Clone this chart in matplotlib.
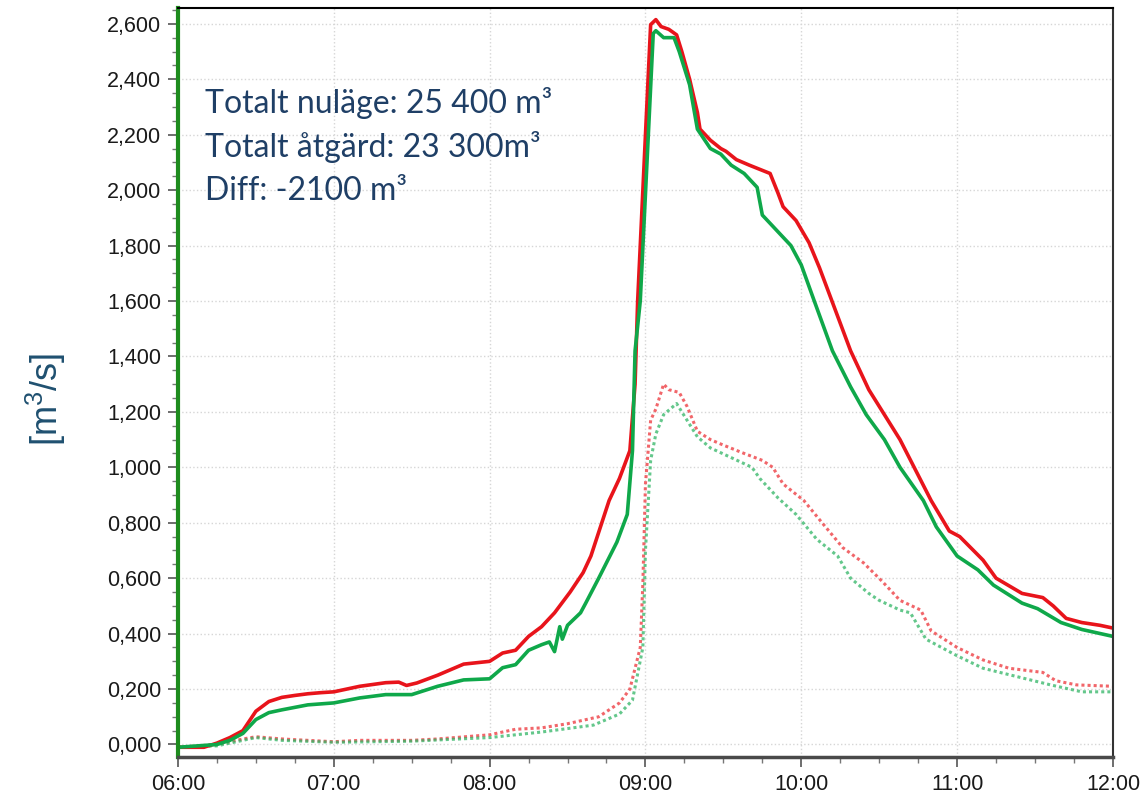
import matplotlib
matplotlib.use("Agg")
import matplotlib.pyplot as plt
import matplotlib.dates as mdates
from matplotlib.ticker import MultipleLocator, FuncFormatter
import pandas as pd

# Data
t_nulage = ["06:00", "06:10", "06:15", "06:20", "06:25", "06:30", "06:35", "06:40", "06:45", "06:50",
            "06:55", "07:00", "07:10", "07:20", "07:25", "07:28", "07:32", "07:40", "07:50", "08:00",
            "08:05", "08:10", "08:15", "08:20", "08:25", "08:31", "08:36", "08:39", "08:46", "08:50",
            "08:54", "08:56", "08:57", "09:02", "09:04", "09:06", "09:09", "09:12", "09:14", "09:17",
            "09:20", "09:21", "09:25", "09:29", "09:31", "09:35", "09:40", "09:48", "09:51", "09:53",
            "09:58", "10:03", "10:07", "10:11", "10:19", "10:26", "10:38", "10:50", "10:57", "11:01",
            "11:10", "11:15", "11:25", "11:33", "11:37", "11:42", "11:48", "11:55", "12:00"]
q_nulage = [-0.01, -0.01, 0.005, 0.025, 0.05, 0.12, 0.155, 0.17, 0.177, 0.183,
            0.187, 0.19, 0.21, 0.223, 0.225, 0.213, 0.222, 0.25, 0.29, 0.30,
            0.33, 0.34, 0.39, 0.425, 0.475, 0.55, 0.62, 0.68, 0.88, 0.96,
            1.06, 1.30, 1.60, 2.597, 2.615, 2.59, 2.58, 2.56, 2.50, 2.40,
            2.28, 2.22, 2.18, 2.15, 2.14, 2.11, 2.09, 2.06, 1.99, 1.94,
            1.89, 1.81, 1.72, 1.62, 1.42, 1.28, 1.10, 0.88, 0.77, 0.75,
            0.665, 0.60, 0.545, 0.53, 0.50, 0.455, 0.44, 0.43, 0.42]

t_atgard = ["06:00", "06:15", "06:20", "06:25", "06:30", "06:35", "06:40", "06:50", "07:00", "07:10",
            "07:20", "07:30", "07:40", "07:50", "08:00", "08:05", "08:10", "08:15", "08:20", "08:23",
            "08:25", "08:27", "08:28", "08:30", "08:35", "08:37", "08:42", "08:49", "08:53", "08:55",
            "08:56", "08:58", "09:03", "09:04", "09:07", "09:11", "09:13", "09:17", "09:20", "09:25",
            "09:29", "09:33", "09:38", "09:43", "09:44", "09:45", "09:51", "09:56", "10:00", "10:05",
            "10:12", "10:19", "10:25", "10:32", "10:38", "10:47", "10:52", "11:00", "11:08", "11:14",
            "11:25", "11:31", "11:40", "11:48", "12:00"]
q_atgard = [-0.01, 0.0, 0.015, 0.04, 0.09, 0.115, 0.125, 0.143, 0.15, 0.168,
            0.18, 0.18, 0.21, 0.233, 0.237, 0.277, 0.288, 0.34, 0.36, 0.37,
            0.335, 0.425, 0.38, 0.43, 0.475, 0.51, 0.60, 0.73, 0.83, 1.06,
            1.42, 1.60, 2.565, 2.575, 2.55, 2.55, 2.50, 2.38, 2.22, 2.15,
            2.13, 2.09, 2.06, 2.01, 1.96, 1.91, 1.85, 1.80, 1.73, 1.60,
            1.42, 1.29, 1.19, 1.10, 1.00, 0.88, 0.785, 0.68, 0.63, 0.575,
            0.51, 0.49, 0.44, 0.415, 0.39]

t_nulage_dot = ["06:00", "06:15", "06:25", "06:30", "06:40", "07:00", "07:10", "07:30", "07:40", "08:00",
                "08:10", "08:20", "08:30", "08:42", "08:50", "08:54", "08:58", "08:59", "09:00", "09:02",
                "09:04", "09:07", "09:09", "09:13", "09:16", "09:20", "09:25", "09:30", "09:38", "09:45",
                "09:49", "09:53", "10:01", "10:08", "10:16", "10:24", "10:31", "10:38", "10:46", "10:50",
                "11:00", "11:10", "11:20", "11:33", "11:38", "11:46", "12:00"]
q_nulage_dot = [-0.01, 0.0, 0.02, 0.028, 0.02, 0.01, 0.015, 0.015, 0.02, 0.035,
                0.055, 0.06, 0.075, 0.10, 0.15, 0.20, 0.35, 0.58, 0.94, 1.17,
                1.21, 1.30, 1.28, 1.27, 1.22, 1.13, 1.10, 1.08, 1.05, 1.025,
                1.00, 0.94, 0.88, 0.80, 0.71, 0.655, 0.59, 0.52, 0.485, 0.41,
                0.35, 0.305, 0.275, 0.26, 0.23, 0.215, 0.21]

t_atgard_dot = ["06:00", "06:15", "06:25", "06:30", "06:40", "07:00", "07:30", "08:00", "08:20", "08:40",
                "08:50", "08:55", "08:59", "09:00", "09:02", "09:04", "09:07", "09:12", "09:14", "09:20",
                "09:25", "09:33", "09:41", "09:44", "09:51", "09:58", "10:06", "10:14", "10:19", "10:26",
                "10:30", "10:38", "10:42", "10:48", "11:00", "11:10", "11:23", "11:36", "11:48", "12:00"]
q_atgard_dot = [-0.01, -0.005, 0.015, 0.025, 0.015, 0.008, 0.012, 0.025, 0.045, 0.07,
                0.11, 0.16, 0.35, 0.70, 1.025, 1.12, 1.19, 1.23, 1.20, 1.11,
                1.07, 1.035, 1.00, 0.96, 0.89, 0.83, 0.74, 0.68, 0.60, 0.545,
                0.52, 0.485, 0.475, 0.38, 0.32, 0.275, 0.245, 0.215, 0.19, 0.19]

info_lines = ["Totalt nuläge: 25 400 m³", "Totalt åtgärd: 23 300m³", "Diff: -2100 m³"]


def to_time(ts):
    return pd.to_datetime(["2020-01-01 " + t for t in ts])


plt.rcParams['font.family'] = ['Liberation Sans', 'DejaVu Sans']
plt.rcParams['mathtext.default'] = 'regular'

fig = plt.figure(figsize=(11.43, 7.99), dpi=100)
ax = fig.add_axes([0.1557, 0.0526, 0.818, 0.9374])

red = '#E8141B'
green = '#0FA84A'

ax.plot(to_time(t_nulage_dot), q_nulage_dot, color='#EE4045', lw=2.2, ls=(0, (1, 1)), alpha=0.8)
ax.plot(to_time(t_atgard_dot), q_atgard_dot, color='#30B565', lw=2.2, ls=(0, (1, 1)), alpha=0.75)
ax.plot(to_time(t_nulage), q_nulage, color=red, lw=2.6)
ax.plot(to_time(t_atgard), q_atgard, color=green, lw=2.6)

# axes
ax.set_xlim(pd.Timestamp("2020-01-01 06:00"), pd.Timestamp("2020-01-01 12:00"))
ax.set_ylim(-0.045, 2.657)
ax.xaxis.set_major_locator(mdates.HourLocator())
ax.xaxis.set_minor_locator(mdates.MinuteLocator(byminute=[15, 30, 45]))
ax.xaxis.set_major_formatter(mdates.DateFormatter("%H:%M"))
ax.yaxis.set_major_locator(MultipleLocator(0.2))
ax.yaxis.set_minor_locator(MultipleLocator(0.05))
ax.yaxis.set_major_formatter(FuncFormatter(lambda v, p: f"{v:.3f}".replace('.', ',')))

ax.tick_params(which='major', length=7, width=1.2, color='#555555',
               labelsize=15.5, labelcolor='#1a1a1a', pad=5)
ax.tick_params(which='minor', length=4.5, width=1.0, color='#777777')

ax.grid(which='major', linestyle=':', color='#d6d6d6', lw=1.0)

ax.spines['left'].set_color('#1E8C1E')
ax.spines['left'].set_linewidth(3)
ax.spines['bottom'].set_color('#4a4a4a')
ax.spines['bottom'].set_linewidth(2.5)
ax.spines['top'].set_color('black')
ax.spines['top'].set_linewidth(1.5)
ax.spines['right'].set_color('#333333')
ax.spines['right'].set_linewidth(1.5)

# text
for i, s in enumerate(info_lines):
    ax.text(0.029, 0.873 - i * 0.0585, s, transform=ax.transAxes, va='center', ha='left',
            fontsize=23, color='#1F3F66', family=['Lato', 'DejaVu Sans'])

fig.text(0.040, 0.50, r'[m$^{3}$/s]', rotation=90, va='center', ha='center',
         fontsize=26, color='#1F5070')

fig.savefig("out.png", dpi=100)
